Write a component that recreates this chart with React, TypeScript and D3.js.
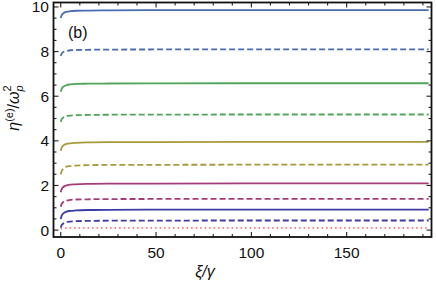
import React from "react";
import * as d3 from "d3";

const xs = [0, 0.5, 1, 2, 3, 5, 8, 14, 25, 50, 100, 193];

const blueSolid = [9.5, 9.63, 9.69, 9.75, 9.78, 9.81, 9.83, 9.84, 9.85, 9.855, 9.86, 9.86];
const blueDashed = [7.8, 7.91, 7.96, 8.01, 8.03, 8.06, 8.07, 8.08, 8.09, 8.095, 8.1, 8.1];
const greenSolid = [6.2, 6.33, 6.4, 6.46, 6.5, 6.53, 6.55, 6.56, 6.57, 6.575, 6.58, 6.58];
const greenDashed = [4.85, 4.97, 5.02, 5.08, 5.11, 5.13, 5.15, 5.16, 5.17, 5.175, 5.18, 5.18];
const oliveSolid = [3.55, 3.69, 3.76, 3.83, 3.86, 3.89, 3.91, 3.93, 3.94, 3.945, 3.95, 3.95];
const oliveDashed = [2.5, 2.65, 2.72, 2.8, 2.84, 2.87, 2.89, 2.91, 2.92, 2.925, 2.93, 2.93];
const magentaSolid = [1.7, 1.84, 1.9, 1.97, 2.0, 2.04, 2.05, 2.07, 2.08, 2.085, 2.09, 2.09];
const magentaDashed = [1.05, 1.17, 1.23, 1.29, 1.32, 1.35, 1.37, 1.38, 1.39, 1.395, 1.4, 1.4];
const navySolid = [0.5, 0.65, 0.72, 0.79, 0.83, 0.86, 0.88, 0.9, 0.91, 0.915, 0.92, 0.92];
const navyDashed = [0.1, 0.22, 0.27, 0.33, 0.36, 0.38, 0.4, 0.41, 0.42, 0.425, 0.43, 0.43];
const redDotted = [0.05, 0.07, 0.08, 0.09, 0.09, 0.1, 0.1, 0.1, 0.1, 0.1, 0.1, 0.1];

const xTicks = [0, 50, 100, 150];
const yTicks = [0, 2, 4, 6, 8, 10];

const series = [
  { v: blueSolid, color: "#4a6cb0", dash: "" },
  { v: blueDashed, color: "#4a6cb0", dash: "6,3" },
  { v: greenSolid, color: "#50a55a", dash: "" },
  { v: greenDashed, color: "#50a55a", dash: "6,3" },
  { v: oliveSolid, color: "#a89a3c", dash: "" },
  { v: oliveDashed, color: "#a89a3c", dash: "6,3" },
  { v: magentaSolid, color: "#a53c7a", dash: "" },
  { v: magentaDashed, color: "#a53c7a", dash: "6,3" },
  { v: navySolid, color: "#3c3ca5", dash: "" },
  { v: navyDashed, color: "#3c3ca5", dash: "6,3" },
  { v: redDotted, color: "#ff7070", dash: "1.5,3" },
];

export default function App() {
  const W = 436, H = 281;
  const L = 53.5, R = 431.5, T = 2.5, B = 237;
  const x = d3.scaleLinear().domain([-3.8, 194.5]).range([L, R]);
  const y = d3.scaleLinear().domain([-0.31, 10.2]).range([B, T]);
  const line = d3
    .line<number>()
    .x((_, i) => x(xs[i]))
    .y((d) => y(d))
    .curve(d3.curveMonotoneX);

  const xMinor = d3.range(0, 195, 10);
  const yMinor = d3.range(0, 10.21, 0.5);
  const font = "'Liberation Sans', Arial, sans-serif";

  return (
    <svg width={W} height={H} style={{ position: "absolute", left: 0, top: 0 }} fontFamily={font}>
      <rect width={W} height={H} fill="white" />
      {series.map((s, i) => (
        <path
          key={i}
          d={line(s.v) || ""}
          fill="none"
          stroke={s.color}
          strokeWidth={1.8}
          strokeDasharray={s.dash || undefined}
        />
      ))}
      {xMinor.map((t) => {
        const major = xTicks.includes(t);
        const len = major ? 5 : 3;
        return (
          <g key={"xt" + t} stroke="#222" strokeWidth={1.1}>
            <line x1={x(t)} x2={x(t)} y1={B} y2={B - len} />
            <line x1={x(t)} x2={x(t)} y1={T} y2={T + len} />
          </g>
        );
      })}
      {yMinor.map((t) => {
        const major = Math.abs(t % 2) < 1e-9;
        const len = major ? 5 : 3;
        return (
          <g key={"yt" + t} stroke="#222" strokeWidth={1.1}>
            <line x1={L} x2={L + len} y1={y(t)} y2={y(t)} />
            <line x1={R} x2={R - len} y1={y(t)} y2={y(t)} />
          </g>
        );
      })}
      <rect x={L} y={T} width={R - L} height={B - T} fill="none" stroke="#111" strokeWidth={1.8} />
      {xTicks.map((t) => (
        <text key={"xl" + t} x={x(t)} y={258} fontSize={15.5} textAnchor="middle" fill="#111">
          {t}
        </text>
      ))}
      {yTicks.map((t) => (
        <text key={"yl" + t} x={49} y={y(t) + 5.5} fontSize={15.5} textAnchor="end" fill="#111">
          {t}
        </text>
      ))}
      <text x={68} y={38} fontSize={16} fill="#111">(b)</text>
      <text x={205} y={277} fontSize={16} textAnchor="middle" fontStyle="italic" fill="#111">
        ξ/γ
      </text>
      <text transform="translate(19,108) rotate(-90)" fontSize={16} textAnchor="middle" fill="#111">
        <tspan fontStyle="italic">η</tspan>
        <tspan fontSize={11} dy={-6}>(e)</tspan>
        <tspan dy={6}>/</tspan>
        <tspan fontStyle="italic">ω</tspan>
        <tspan fontSize={11} fontStyle="italic" dy={4}>p</tspan>
        <tspan fontSize={11} dx={-6} dy={-12}>2</tspan>
      </text>
    </svg>
  );
}
